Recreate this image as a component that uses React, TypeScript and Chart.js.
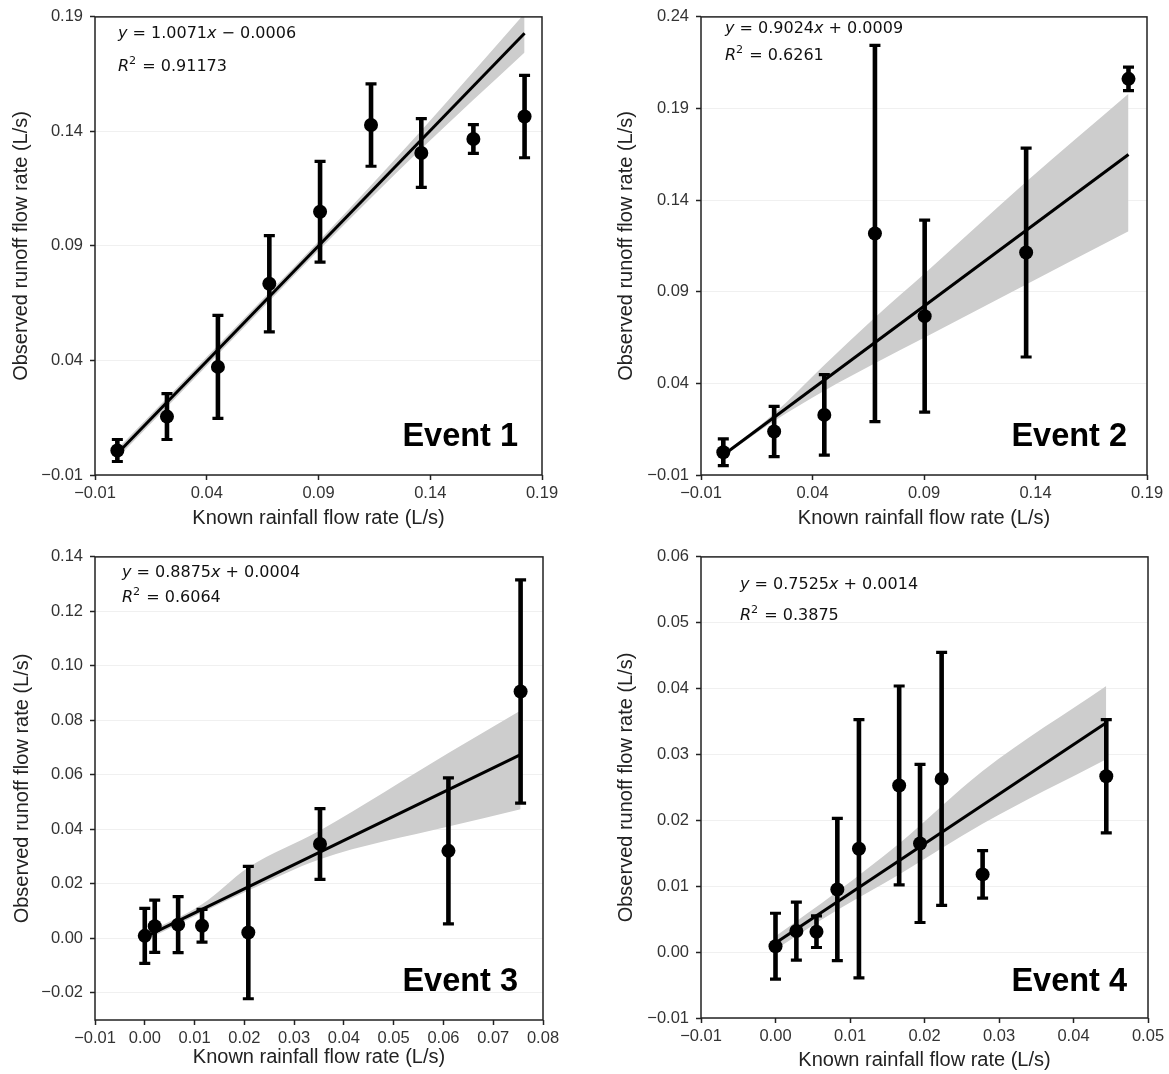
import React, { useEffect, useRef } from 'react';
import { Chart, registerables } from 'chart.js';

Chart.register(...registerables);

const SANS = '"Liberation Sans", Arial, Helvetica, sans-serif';
const MATH = '"DejaVu Sans", sans-serif';
const BAND = '#cdcdcd';
const INK = '#111111';

const xTitle = 'Known rainfall flow rate (L/s)';
const yTitle = 'Observed runoff flow rate (L/s)';

// ---------------- Event 1 ----------------
const e1X = [0.0, 0.0222, 0.045, 0.068, 0.0907, 0.1135, 0.136, 0.1593, 0.1822];
const e1Y = [0.0007, 0.0155, 0.0372, 0.0735, 0.1049, 0.1428, 0.1306, 0.1367, 0.1465];
const e1Err = [0.0048, 0.01, 0.0225, 0.021, 0.022, 0.018, 0.015, 0.0063, 0.018];
const e1BandX = [0.0, 0.045, 0.0907, 0.136, 0.1822];
const e1BandHi = [0.0014, 0.0467, 0.0927, 0.1404, 0.1915];
const e1BandLo = [-0.0026, 0.0427, 0.0887, 0.1324, 0.1745];
const e1Fit = [1.0071, -0.0006];
const e1Eq = 'y = 1.0071x − 0.0006';
const e1R2 = '0.91173';
const e1XTicks = [-0.01, 0.04, 0.09, 0.14, 0.19];
const e1YTicks = [-0.01, 0.04, 0.09, 0.14, 0.19];
const e1XRange = [-0.01, 0.19];
const e1YRange = [-0.01, 0.19];

// ---------------- Event 2 ----------------
const e2X = [0.0, 0.0228, 0.0453, 0.068, 0.0903, 0.1358, 0.1817];
const e2Y = [0.0024, 0.0137, 0.0228, 0.1218, 0.0767, 0.1114, 0.2062];
const e2Err = [0.0073, 0.0137, 0.022, 0.1027, 0.0524, 0.057, 0.0064];
const e2BandX = [0.0, 0.0228, 0.0453, 0.068, 0.0903, 0.1358, 0.1817];
const e2BandHi = [0.0016, 0.0235, 0.05, 0.076, 0.1, 0.15, 0.198];
const e2BandLo = [0.0002, 0.0195, 0.036, 0.051, 0.065, 0.094, 0.123];
const e2Fit = [0.9024, 0.0009];
const e2Eq = 'y = 0.9024x + 0.0009';
const e2R2 = '0.6261';
const e2XTicks = [-0.01, 0.04, 0.09, 0.14, 0.19];
const e2YTicks = [-0.01, 0.04, 0.09, 0.14, 0.19, 0.24];
const e2XRange = [-0.01, 0.19];
const e2YRange = [-0.01, 0.24];

// ---------------- Event 3 ----------------
const e3X = [0.0, 0.002, 0.0067, 0.0115, 0.0208, 0.0352, 0.061, 0.0755];
const e3Y = [0.0009, 0.0044, 0.005, 0.0046, 0.0021, 0.0346, 0.0321, 0.0906];
const e3Err = [0.0101, 0.0096, 0.0103, 0.006, 0.0243, 0.013, 0.0268, 0.041];
const e3BandX = [0.0, 0.0115, 0.0208, 0.0352, 0.061, 0.0755];
const e3BandHi = [0.0018, 0.0125, 0.026, 0.0396, 0.068, 0.0836];
const e3BandLo = [-0.0008, 0.0095, 0.0175, 0.029, 0.041, 0.0474];
const e3Fit = [0.8875, 0.0004];
const e3Eq = 'y = 0.8875x + 0.0004';
const e3R2 = '0.6064';
const e3XTicks = [-0.01, 0.0, 0.01, 0.02, 0.03, 0.04, 0.05, 0.06, 0.07, 0.08];
const e3YTicks = [-0.02, 0.0, 0.02, 0.04, 0.06, 0.08, 0.1, 0.12, 0.14];
const e3XRange = [-0.01, 0.08];
const e3YRange = [-0.03, 0.14];

// ---------------- Event 4 ----------------
const e4X = [0.0, 0.0028, 0.0055, 0.0083, 0.0112, 0.0166, 0.0194, 0.0223, 0.0278, 0.0444];
const e4Y = [0.0009, 0.0032, 0.0031, 0.0095, 0.0157, 0.0253, 0.0165, 0.0263, 0.0118, 0.0267];
const e4Err = [0.005, 0.0044, 0.0024, 0.0108, 0.0196, 0.0151, 0.012, 0.0192, 0.0036, 0.0086];
const e4BandX = [0.0, 0.0083, 0.0166, 0.0278, 0.0444];
const e4BandHi = [0.0024, 0.0092, 0.0165, 0.0275, 0.0404];
const e4BandLo = [0.0004, 0.0064, 0.0118, 0.0195, 0.0293];
const e4Fit = [0.7525, 0.0014];
const e4Eq = 'y = 0.7525x + 0.0014';
const e4R2 = '0.3875';
const e4XTicks = [-0.01, 0.0, 0.01, 0.02, 0.03, 0.04, 0.05];
const e4YTicks = [-0.01, 0.0, 0.01, 0.02, 0.03, 0.04, 0.05, 0.06];
const e4XRange = [-0.01, 0.05];
const e4YRange = [-0.01, 0.06];

type Panel = {
  name: string;
  x: number[]; y: number[]; err: number[];
  bandX: number[]; bandHi: number[]; bandLo: number[];
  fit: number[]; eq: string; r2: string;
  xTicks: number[]; yTicks: number[]; xRange: number[]; yRange: number[];
  L: any;
};

const panels: Panel[] = [
  {
    name: 'Event 1', x: e1X, y: e1Y, err: e1Err, bandX: e1BandX, bandHi: e1BandHi, bandLo: e1BandLo,
    fit: e1Fit, eq: e1Eq, r2: e1R2, xTicks: e1XTicks, yTicks: e1YTicks, xRange: e1XRange, yRange: e1YRange,
    L: { left: 0, top: 0, w: 575, h: 537, yAxisW: 95, padTop: 15, padRight: 33, xAxisH: 62, yTitlePad: 9, xTitlePad: 7,
      eqDx: 23, eqDy: 17, r2Dy: 50, evDx: 24, evDy: 29 },
  },
  {
    name: 'Event 2', x: e2X, y: e2Y, err: e2Err, bandX: e2BandX, bandHi: e2BandHi, bandLo: e2BandLo,
    fit: e2Fit, eq: e2Eq, r2: e2R2, xTicks: e2XTicks, yTicks: e2YTicks, xRange: e2XRange, yRange: e2YRange,
    L: { left: 590, top: 0, w: 579, h: 537, yAxisW: 111, padTop: 15, padRight: 22, xAxisH: 62, yTitlePad: 24, xTitlePad: 7,
      eqDx: 24, eqDy: 12, r2Dy: 39, evDx: 20, evDy: 29 },
  },
  {
    name: 'Event 3', x: e3X, y: e3Y, err: e3Err, bandX: e3BandX, bandHi: e3BandHi, bandLo: e3BandLo,
    fit: e3Fit, eq: e3Eq, r2: e3R2, xTicks: e3XTicks, yTicks: e3YTicks, xRange: e3XRange, yRange: e3YRange,
    L: { left: 0, top: 540, w: 575, h: 534, yAxisW: 95, padTop: 15, padRight: 32, xAxisH: 54, yTitlePad: 10, xTitlePad: 5,
      eqDx: 27, eqDy: 16, r2Dy: 41, evDx: 25, evDy: 29 },
  },
  {
    name: 'Event 4', x: e4X, y: e4Y, err: e4Err, bandX: e4BandX, bandHi: e4BandHi, bandLo: e4BandLo,
    fit: e4Fit, eq: e4Eq, r2: e4R2, xTicks: e4XTicks, yTicks: e4YTicks, xRange: e4XRange, yRange: e4YRange,
    L: { left: 590, top: 540, w: 579, h: 534, yAxisW: 111, padTop: 15, padRight: 21, xAxisH: 56, yTitlePad: 24, xTitlePad: 2,
      eqDx: 39, eqDy: 28, r2Dy: 59, evDx: 21, evDy: 27 },
  },
];

function fmt(v: number): string {
  if (Math.abs(v) < 1e-9) return '0.00';
  return v.toFixed(2).replace('-', '−');
}

type Part = { t: string; it?: boolean; sup?: boolean };

function eqParts(s: string): Part[] {
  const parts: Part[] = [];
  let buf = '';
  for (const ch of s) {
    if (ch === 'x' || ch === 'y') {
      if (buf) parts.push({ t: buf });
      buf = '';
      parts.push({ t: ch, it: true });
    } else buf += ch;
  }
  if (buf) parts.push({ t: buf });
  return parts;
}

function drawMath(ctx: CanvasRenderingContext2D, parts: Part[], x: number, y: number, size: number) {
  let cx = x;
  ctx.textAlign = 'left';
  ctx.textBaseline = 'middle';
  for (const p of parts) {
    const fs = p.sup ? size * 0.7 : size;
    ctx.font = `${p.it ? 'oblique ' : ''}${fs}px ${MATH}`;
    const dy = p.sup ? -size * 0.38 : 0;
    ctx.fillText(p.t, cx, y + dy);
    cx += ctx.measureText(p.t).width + (p.sup ? 1 : 0);
  }
}

function PanelChart({ p }: { p: Panel }) {
  const ref = useRef<HTMLCanvasElement | null>(null);
  useEffect(() => {
    const canvas = ref.current;
    if (!canvas) return;
    const L = p.L;
    const xmin = Math.min(...p.x);
    const xmax = Math.max(...p.x);
    const decor = {
      id: 'decor' + p.name,
      afterDatasetsDraw(chart: any) {
        const { ctx, scales } = chart;
        const xs = scales.x;
        const ys = scales.y;
        ctx.save();
        ctx.strokeStyle = '#000';
        ctx.lineCap = 'butt';
        p.x.forEach((xv, i) => {
          const px = xs.getPixelForValue(xv);
          const top = ys.getPixelForValue(p.y[i] + p.err[i]);
          const bot = ys.getPixelForValue(p.y[i] - p.err[i]);
          ctx.lineWidth = 4.6;
          ctx.beginPath();
          ctx.moveTo(px, top);
          ctx.lineTo(px, bot);
          ctx.stroke();
          ctx.lineWidth = 3.2;
          ctx.beginPath();
          ctx.moveTo(px - 5.5, top);
          ctx.lineTo(px + 5.5, top);
          ctx.moveTo(px - 5.5, bot);
          ctx.lineTo(px + 5.5, bot);
          ctx.stroke();
        });
        ctx.restore();
      },
      afterDraw(chart: any) {
        const { ctx, chartArea: a } = chart;
        ctx.save();
        ctx.strokeStyle = '#222';
        ctx.lineWidth = 1.5;
        ctx.strokeRect(a.left, a.top, a.right - a.left, a.bottom - a.top);
        ctx.fillStyle = INK;
        drawMath(ctx, eqParts(p.eq), a.left + L.eqDx, a.top + L.eqDy, 16);
        drawMath(ctx, [{ t: 'R', it: true }, { t: '2', sup: true }, { t: ' = ' + p.r2 }], a.left + L.eqDx, a.top + L.r2Dy, 16);
        ctx.fillStyle = '#000';
        ctx.font = `bold 32.5px ${SANS}`;
        ctx.textAlign = 'right';
        ctx.textBaseline = 'alphabetic';
        ctx.fillText(p.name, a.right - L.evDx, a.bottom - L.evDy);
        ctx.restore();
      },
    };

    const tickFont = { family: SANS, size: 16.5 };
    const titleFont = { family: SANS, size: 20 };

    const chart = new Chart(canvas, {
      type: 'scatter',
      data: {
        datasets: [
          {
            type: 'line',
            data: p.bandX.map((x, i) => ({ x, y: p.bandHi[i] })),
            borderColor: 'rgba(0,0,0,0)',
            borderWidth: 0,
            pointRadius: 0,
            fill: '+1',
            backgroundColor: BAND,
            cubicInterpolationMode: 'monotone',
            order: 3,
          },
          {
            type: 'line',
            data: p.bandX.map((x, i) => ({ x, y: p.bandLo[i] })),
            borderColor: 'rgba(0,0,0,0)',
            borderWidth: 0,
            pointRadius: 0,
            fill: false,
            cubicInterpolationMode: 'monotone',
            order: 3,
          },
          {
            type: 'line',
            data: [
              { x: xmin, y: p.fit[0] * xmin + p.fit[1] },
              { x: xmax, y: p.fit[0] * xmax + p.fit[1] },
            ],
            borderColor: '#000',
            borderWidth: 3,
            pointRadius: 0,
            fill: false,
            order: 2,
          },
          {
            type: 'scatter',
            data: p.x.map((x, i) => ({ x, y: p.y[i] })),
            backgroundColor: '#000',
            borderColor: '#000',
            borderWidth: 0,
            pointRadius: 7,
            order: 1,
          },
        ],
      } as any,
      options: {
        animation: false,
        responsive: false,
        events: [],
        layout: { padding: { left: 0, top: L.padTop, right: L.padRight, bottom: 0 } },
        plugins: { legend: { display: false }, tooltip: { enabled: false } },
        scales: {
          x: {
            type: 'linear',
            min: p.xRange[0],
            max: p.xRange[1],
            afterBuildTicks: (s: any) => { s.ticks = p.xTicks.map((v) => ({ value: v })); },
            afterFit: (s: any) => { s.height = L.xAxisH; },
            grid: { drawOnChartArea: false, drawTicks: true, tickLength: 5, tickColor: '#222', tickWidth: 1.5 },
            border: { display: false },
            ticks: { callback: (v: any) => fmt(Number(v)), font: tickFont, color: '#333', padding: 4, maxRotation: 0, autoSkip: false },
            title: { display: true, text: xTitle, font: titleFont, color: '#222', padding: { top: 0, bottom: L.xTitlePad } },
          },
          y: {
            type: 'linear',
            min: p.yRange[0],
            max: p.yRange[1],
            afterBuildTicks: (s: any) => { s.ticks = p.yTicks.map((v) => ({ value: v })); },
            afterFit: (s: any) => { s.width = L.yAxisW; },
            grid: { color: 'rgba(0,0,0,0.06)', lineWidth: 1, drawTicks: true, tickLength: 5, tickColor: '#222', tickWidth: 1.5 },
            border: { display: false },
            ticks: { callback: (v: any) => fmt(Number(v)), font: tickFont, color: '#333', padding: 7, autoSkip: false },
            title: { display: true, text: yTitle, font: titleFont, color: '#222', padding: { top: L.yTitlePad, bottom: 0 } },
          },
        },
      } as any,
      plugins: [decor],
    });
    return () => chart.destroy();
  }, [p]);

  const L = p.L;
  return (
    <canvas
      ref={ref}
      width={L.w}
      height={L.h}
      style={{ position: 'absolute', left: L.left, top: L.top, width: L.w, height: L.h }}
    />
  );
}

export default function App() {
  return (
    <div style={{ position: 'absolute', left: 0, top: 0, width: 1169, height: 1074, background: '#fff', overflow: 'hidden' }}>
      {panels.map((p) => (
        <PanelChart key={p.name} p={p} />
      ))}
    </div>
  );
}
